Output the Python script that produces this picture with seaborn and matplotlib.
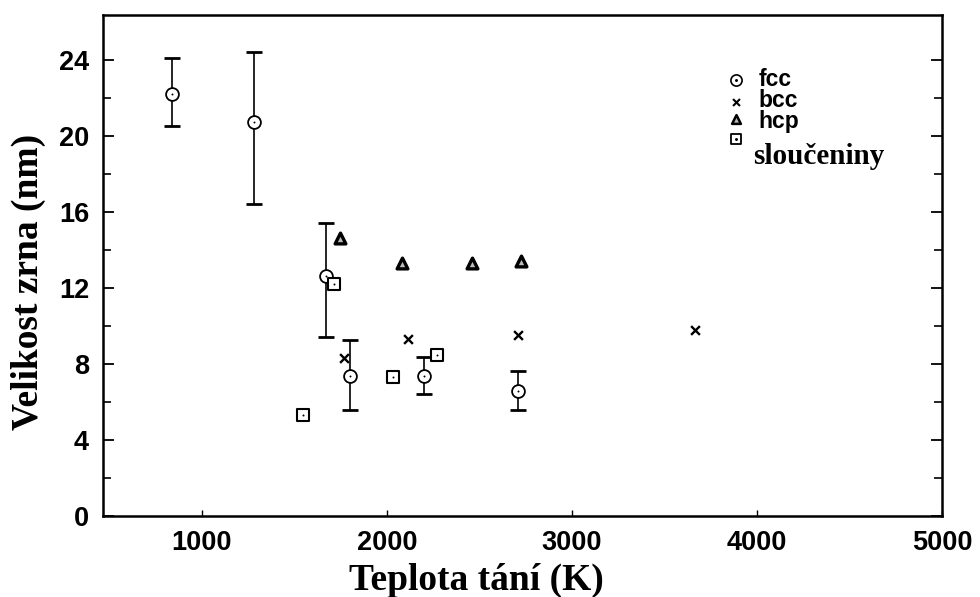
import numpy as np
import pandas as pd
import matplotlib
matplotlib.use("Agg")
import matplotlib.pyplot as plt
import seaborn as sns

# ---- data ----
fcc_T = [838, 1281, 1670, 1800, 2200, 2708]
fcc_d = [22.2, 20.7, 12.6, 7.35, 7.35, 6.6]
fcc_lo = [20.5, 16.4, 9.4, 5.6, 6.4, 5.6]
fcc_hi = [24.1, 24.4, 15.4, 9.25, 8.35, 7.6]

bcc_T = [1768, 2114, 2708, 3665]
bcc_d = [8.3, 9.3, 9.5, 9.8]

hcp_T = [1746, 2081, 2459, 2724]
hcp_d = [14.6, 13.3, 13.3, 13.4]

comp_T = [1546, 1712, 2032, 2270]
comp_d = [5.3, 12.2, 7.3, 8.45]

x_ticks = [1000, 2000, 3000, 4000, 5000]
y_ticks = [0, 4, 8, 12, 16, 20, 24]
legend_labels = ["fcc", "bcc", "hcp", "sloučeniny"]

sns.set_style("white")
plt.rcParams['font.family'] = ['Liberation Sans', 'DejaVu Sans']
plt.rcParams['text.color'] = 'black'
plt.rcParams['axes.labelcolor'] = 'black'
plt.rcParams['xtick.color'] = 'black'
plt.rcParams['ytick.color'] = 'black'

fig = plt.figure(figsize=(9.8, 5.97), dpi=100)
ax = fig.add_axes([103/980, 1-516/597, (942-103)/980, (516-15)/597])

# error bars for fcc
fcc_d_arr = np.array(fcc_d)
yerr = [fcc_d_arr - np.array(fcc_lo), np.array(fcc_hi) - fcc_d_arr]
ax.errorbar(fcc_T, fcc_d, yerr=yerr, fmt='none', ecolor='black',
            elinewidth=1.2, capsize=5.5, capthick=2.0, zorder=2)

# markers
sns.scatterplot(x=fcc_T, y=fcc_d, marker='o', s=85, facecolor='white',
                edgecolor='black', linewidth=1.3, ax=ax, zorder=3)
sns.scatterplot(x=fcc_T, y=fcc_d, marker='.', s=8, color='black',
                linewidth=0, ax=ax, zorder=4)
sns.scatterplot(x=comp_T, y=comp_d, marker='s', s=65, facecolor='white',
                edgecolor='black', linewidth=1.5, ax=ax, zorder=3)
sns.scatterplot(x=comp_T, y=comp_d, marker='.', s=8, color='black',
                linewidth=0, ax=ax, zorder=4)
sns.scatterplot(x=hcp_T, y=hcp_d, marker='^', s=60, facecolor='#bbbbbb',
                edgecolor='black', linewidth=2.4, ax=ax, zorder=3)
sns.scatterplot(x=bcc_T, y=bcc_d, marker='x', s=40, color='black',
                linewidth=1.7, ax=ax, zorder=3)

ax.set_xlim(465, 5000)
ax.set_ylim(0, 26.35)
ax.set_xticks(x_ticks)
ax.set_yticks(y_ticks)
ax.set_yticks(np.arange(2, 26, 4), minor=True)
ax.set_xticklabels([str(t) for t in x_ticks], fontsize=19.5, fontweight='bold')
ax.set_yticklabels([str(t) for t in y_ticks], fontsize=19.5, fontweight='bold')

ax.tick_params(axis='y', which='major', direction='in', length=8, width=1.3,
               pad=10, left=True, right=True)
ax.tick_params(axis='y', which='minor', direction='in', length=6, width=1.2,
               left=True, right=True)
ax.tick_params(axis='x', which='major', direction='in', length=4, width=1.0,
               pad=10, bottom=True)

for sp in ax.spines.values():
    sp.set_visible(True)
    sp.set_color('black')
    sp.set_linewidth(1.8)

ax.set_xlabel("Teplota tání (K)", fontsize=27, fontweight='bold',
              family=['Liberation Serif', 'DejaVu Serif'])
ax.set_ylabel("Velikost zrna (nm)", fontsize=27, fontweight='bold',
              family=['Liberation Serif', 'DejaVu Serif'])
ax.xaxis.set_label_coords(0.445, -0.093)
ax.yaxis.set_label_coords(-0.068, 0.467)

# legend drawn manually to reproduce its look
tr = ax.transAxes
mx = 0.754
ax.scatter([mx], [0.870], marker='o', s=65, facecolor='white', edgecolor='black',
           linewidth=1.2, transform=tr, zorder=5)
ax.scatter([mx], [0.870], marker='.', s=5, color='black', transform=tr, zorder=6)
ax.scatter([mx], [0.826], marker='x', s=25, color='black', linewidth=1.5,
           transform=tr, zorder=5)
ax.scatter([mx], [0.792], marker='^', s=40, facecolor='#bbbbbb', edgecolor='black',
           linewidth=1.8, transform=tr, zorder=5)
ax.scatter([mx], [0.752], marker='s', s=55, facecolor='white', edgecolor='black',
           linewidth=1.3, transform=tr, zorder=5)
ax.scatter([mx], [0.752], marker='.', s=5, color='black', transform=tr, zorder=6)

tx = 0.781
for lab, yy in zip(legend_labels[:3], [0.872, 0.830, 0.788]):
    ax.text(tx, yy, lab, transform=tr, fontsize=16.5, fontweight='bold',
            va='center', ha='left')
ax.text(0.775, 0.717, legend_labels[3], transform=tr, fontsize=21,
        fontweight='bold', family=['Liberation Serif', 'DejaVu Serif'],
        va='center', ha='left')

fig.savefig("out.png", dpi=100)
